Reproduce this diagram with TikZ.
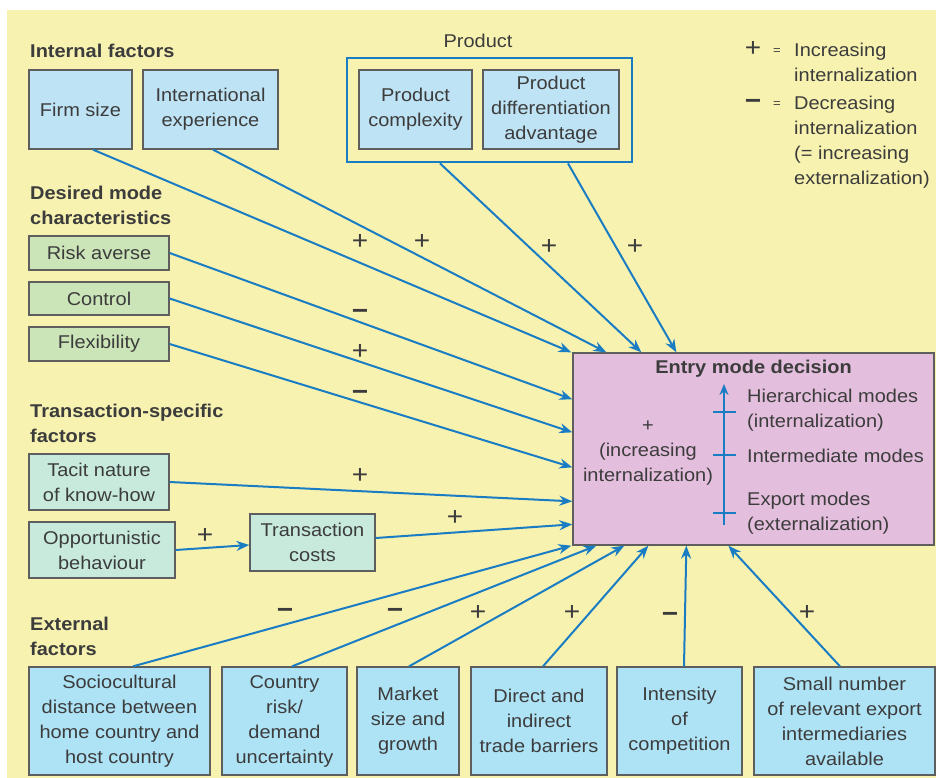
\documentclass[tikz,border=0pt]{standalone}
\usepackage{fontspec}
\setmainfont{Liberation Sans}[FakeStretch=1.08]
\usetikzlibrary{arrows.meta}
\definecolor{bgyellow}{HTML}{F7F2B0}
\definecolor{lineblue}{HTML}{1A7DC4}
\definecolor{topblue}{HTML}{BEE3F4}
\definecolor{botblue}{HTML}{AEE3F6}
\definecolor{greenbox}{HTML}{CCE5B8}
\definecolor{mintbox}{HTML}{C7EADD}
\definecolor{pinkbox}{HTML}{E3BEDD}
\definecolor{bordergray}{HTML}{5E5E5E}
\definecolor{txt}{HTML}{3C3C3C}
\newcommand\mainfs{\fontsize{18.5}{25}\selectfont}
\begin{document}
\begin{tikzpicture}[x=1pt,y=-1pt,
  font=\mainfs, text=txt,
  box/.style={draw=bordergray, line width=1.3pt, align=center, inner sep=0pt, text=txt},
  arr/.style={draw=lineblue, line width=2pt, -{Stealth[length=13pt,width=10pt]}},
  sign/.style={font=\fontsize{26}{26}\selectfont, text=txt, inner sep=0pt},
  msign/.style={font=\fontsize{26}{26}\selectfont\bfseries, text=txt, inner sep=0pt},
  hdr/.style={font=\mainfs\bfseries, anchor=north west, align=left, inner sep=0pt, text=txt},
  plain/.style={inner sep=0pt, text=txt},
  tick/.style={draw=lineblue, line width=2pt}]
\useasboundingbox (0,0) rectangle (936,778);
\fill[white] (0,0) rectangle (936,778);
\fill[bgyellow] (7,10) rectangle (936,778);

% headers
\node[hdr, anchor=base west] (hInt) at (30,58) {Internal factors};
\node[hdr] (hDes) at (30,185.5) {Desired mode\\characteristics};
\node[hdr] (hTra) at (30,403.5) {Transaction-specific\\factors};
\node[hdr] (hExt) at (30,616.5) {External\\factors};

% product group
\node[plain] (prodlabel) at (478,41) {Product};
\node[draw=lineblue, line width=2.8pt, minimum width=285pt, minimum height=104pt, inner sep=0pt] (prodgroup) at (489.5,110) {};

% top boxes
\node[box, fill=topblue, minimum width=103pt, minimum height=79pt] (firm) at (80.5,109.5) {Firm size};
\node[box, fill=topblue, minimum width=135pt, minimum height=79pt] (intl) at (210.5,109.5) {International\\experience};
\node[box, fill=topblue, minimum width=113pt, minimum height=79pt] (pcomp) at (415.5,109.5) {Product\\complexity};
\node[box, fill=topblue, minimum width=136pt, minimum height=79pt] (pdiff) at (551,109.5) {Product\\differentiation\\advantage};

% legend
\node[sign] (lplus) at (753,49) {+};
\node[plain, font=\fontsize{12}{12}\selectfont] (leq1) at (777,52) {=};
\node[plain, anchor=north west, align=left] (leg1) at (794,42.5) {Increasing\\internalization};
\node[msign] (lminus) at (753,104) {−};
\node[plain, font=\fontsize{12}{12}\selectfont] (leq2) at (777,105) {=};
\node[plain, anchor=north west, align=left] (leg2) at (794,95.5) {Decreasing\\internalization\\(= increasing\\externalization)};

% desired mode boxes
\node[box, fill=greenbox, minimum width=140pt, minimum height=34pt] (risk) at (99,253) {Risk averse};
\node[box, fill=greenbox, minimum width=140pt, minimum height=33pt] (control) at (99,298.5) {Control};
\node[box, fill=greenbox, minimum width=140pt, minimum height=34pt] (flex) at (99,344) {Flexibility};

% transaction-specific
\node[box, fill=mintbox, minimum width=140pt, minimum height=56pt] (tacit) at (99,482) {Tacit nature\\of know-how};
\node[box, fill=mintbox, minimum width=146pt, minimum height=56pt] (opp) at (102,550) {Opportunistic\\behaviour};
\node[box, fill=mintbox, minimum width=125pt, minimum height=57pt] (tcost) at (312.5,542.5) {Transaction\\costs};

% entry mode decision
\node[box, fill=pinkbox, minimum width=361pt, minimum height=192pt] (entry) at (753.5,449) {};
\node[plain, font=\mainfs\bfseries] (etitle) at (753.5,369) {Entry mode decision};
\node[plain, align=center] (eleft) at (648,453) {+\\(increasing\\internalization)};
\node[plain, anchor=west, align=left] (ehier) at (747,410) {Hierarchical modes\\(internalization)};
\node[plain, anchor=west, align=left] (einter) at (747,456) {Intermediate modes};
\node[plain, anchor=west, align=left] (eexp) at (747,513) {Export modes\\(externalization)};
\coordinate (scaleB) at (724,525);
\coordinate (scaleT) at (724,384);
\draw[draw=lineblue, line width=2pt, -{Stealth[length=11pt,width=9pt]}] (scaleB) -- (scaleT);
\draw[tick] (713,412) -- (736,412);
\draw[tick] (713,455) -- (736,455);
\draw[tick] (713,513) -- (736,513);

% external boxes
\node[box, fill=botblue, minimum width=181pt, minimum height=108pt] (socio) at (119.5,721) {Sociocultural\\distance between\\home country and\\host country};
\node[box, fill=botblue, minimum width=125pt, minimum height=108pt] (country) at (284.5,721) {Country\\risk/\\demand\\uncertainty};
\node[box, fill=botblue, minimum width=102pt, minimum height=108pt] (market) at (408,721) {Market\\size and\\growth};
\node[box, fill=botblue, minimum width=136pt, minimum height=108pt] (direct) at (539,721) {Direct and\\indirect\\trade barriers};
\node[box, fill=botblue, minimum width=125pt, minimum height=108pt] (intens) at (679.5,721) {Intensity\\of\\competition};
\node[box, fill=botblue, minimum width=181pt, minimum height=108pt] (small) at (844.5,721) {Small number\\of relevant export\\intermediaries\\available};

% connectors: top
\draw[arr] ([xshift=12.5pt]firm.south) -- ([xshift=-1pt]entry.north west);
\draw[arr] ([xshift=2.5pt]intl.south) -- ([xshift=34pt]entry.north west);
\draw[arr] ([xshift=-49.5pt]prodgroup.south) -- ([xshift=69pt]entry.north west);
\draw[arr] ([xshift=78.5pt]prodgroup.south) -- ([xshift=104pt]entry.north west);
% connectors: left
\draw[arr] (risk.east) -- ([yshift=-47pt]entry.north west);
\draw[arr] (control.east) -- ([yshift=-80pt]entry.north west);
\draw[arr] (flex.east) -- ([yshift=-115pt]entry.north west);
\draw[arr] (tacit.east) -- ([yshift=-149pt]entry.north west);
\draw[arr] ([yshift=4.5pt]tcost.east) -- ([yshift=-172pt]entry.north west);
\draw[arr] (opp.east) -- ([yshift=-2.5pt]tcost.west);
% connectors: bottom
\draw[arr] ([xshift=13.5pt]socio.north) -- ([xshift=-1pt]entry.south west);
\draw[arr] ([xshift=7.5pt]country.north) -- ([xshift=24pt]entry.south west);
\draw[arr] ([xshift=1pt]market.north) -- ([xshift=52pt]entry.south west);
\draw[arr] ([xshift=4pt]direct.north) -- ([xshift=76pt]entry.south west);
\draw[arr] ([xshift=4.5pt]intens.north) -- ([xshift=114pt]entry.south west);
\draw[arr] ([xshift=-4.5pt]small.north) -- ([xshift=156pt]entry.south west);

% signs
\node[sign] (s1) at (360,242) {+};
\node[sign] (s2) at (422,242) {+};
\node[sign] (s3) at (549,247) {+};
\node[sign] (s4) at (635,247) {+};
\node[msign] (s5) at (360,314) {−};
\node[sign] (s6) at (360,352) {+};
\node[msign] (s7) at (360,395) {−};
\node[sign] (s8) at (360,476) {+};
\node[sign] (s9) at (455,518) {+};
\node[sign] (s10) at (205,536) {+};
\node[msign] (s11) at (285,613) {−};
\node[msign] (s12) at (395,613) {−};
\node[sign] (s13) at (478,613) {+};
\node[sign] (s14) at (572,613) {+};
\node[msign] (s15) at (670,617) {−};
\node[sign] (s16) at (807,613) {+};
\end{tikzpicture}
\end{document}
